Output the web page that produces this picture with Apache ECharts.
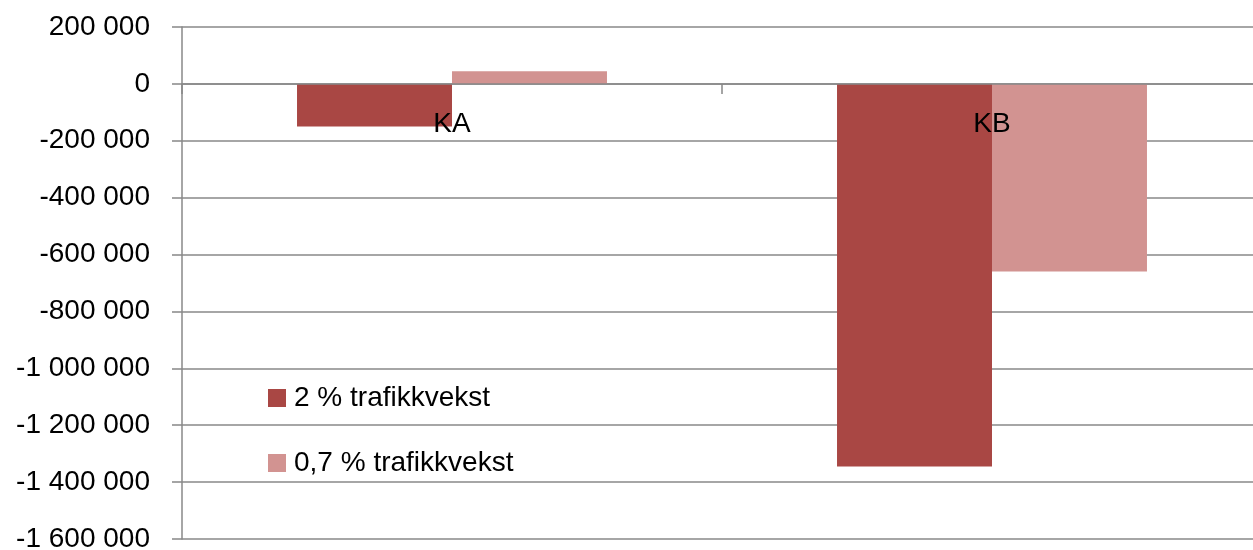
<!DOCTYPE html>
<html>
<head>
<meta charset="utf-8">
<style>
  html, body { margin: 0; padding: 0; background: #ffffff; }
  #chart { width: 1253px; height: 550px; }
</style>
<script src="https://cdn.jsdelivr.net/npm/echarts@6/dist/echarts.min.js"></script>
</head>
<body>
<div id="chart"></div>
<script>
var categories = ['KA', 'KB'];
var seriesNames = ['2 % trafikkvekst', '0,7 % trafikkvekst'];
var growth2 = [-150000, -1345000];
var growth07 = [44000, -660000];
var yTicks = [200000, 0, -200000, -400000, -600000, -800000, -1000000, -1200000, -1400000, -1600000];

var FONT = 'Liberation Sans';
var CHART_H = 550;
var GRID_TOP = 27;
var GRID_BOTTOM = 11;

var yMax = yTicks[0];
var yMin = yTicks[yTicks.length - 1];

// category axis sits on the zero line, labels below it
var gridH = CHART_H - GRID_TOP - GRID_BOTTOM;
var zeroOffset = -gridH * (0 - yMin) / (yMax - yMin);

function fmtSpace(v) {
    var neg = v < 0;
    var s = String(Math.abs(v)).replace(/\B(?=(\d{3})+(?!\d))/g, ' ');
    return (neg ? '-' : '') + s;
}

var chart = echarts.init(document.getElementById('chart'));

chart.setOption({
    backgroundColor: '#ffffff',
    animation: false,
    textStyle: { fontFamily: FONT },
    grid: {
        left: 182,
        right: -9,
        top: GRID_TOP,
        bottom: GRID_BOTTOM,
        outerBoundsMode: 'none'
    },
    legend: {
        orient: 'vertical',
        left: 268,
        top: 384,
        padding: 0,
        icon: 'rect',
        itemWidth: 18,
        itemHeight: 18,
        itemGap: 37,
        textStyle: { color: '#000000', fontSize: 28, fontFamily: FONT, padding: [0, 0, 0, 3] },
        data: seriesNames
    },
    xAxis: {
        type: 'category',
        data: categories,
        position: 'bottom',
        offset: zeroOffset,
        z: 10,
        axisLine: { onZero: false, lineStyle: { color: '#888888', width: 1.5 } },
        axisTick: { show: true, length: 10, lineStyle: { color: '#888888', width: 1.5 } },
        axisLabel: {
            color: '#000000',
            fontSize: 28,
            margin: 26,
            interval: 0,
            fontFamily: FONT
        },
        splitLine: { show: false }
    },
    yAxis: {
        type: 'value',
        min: yMin,
        max: yMax,
        interval: 200000,
        axisLine: { show: true, lineStyle: { color: '#888888', width: 1.5 } },
        axisTick: { show: true, length: 10, lineStyle: { color: '#888888', width: 1.5 } },
        axisLabel: {
            color: '#000000',
            fontSize: 28,
            margin: 32,
            fontFamily: FONT,
            formatter: fmtSpace
        },
        splitLine: { show: true, lineStyle: { color: '#888888', width: 1.5 } }
    },
    series: [
        {
            name: seriesNames[0],
            type: 'bar',
            data: growth2,
            barGap: '0%',
            barCategoryGap: '42.6%',
            itemStyle: { color: '#a94744' }
        },
        {
            name: seriesNames[1],
            type: 'bar',
            data: growth07,
            itemStyle: { color: '#d29391' }
        }
    ]
});
</script>
</body>
</html>
